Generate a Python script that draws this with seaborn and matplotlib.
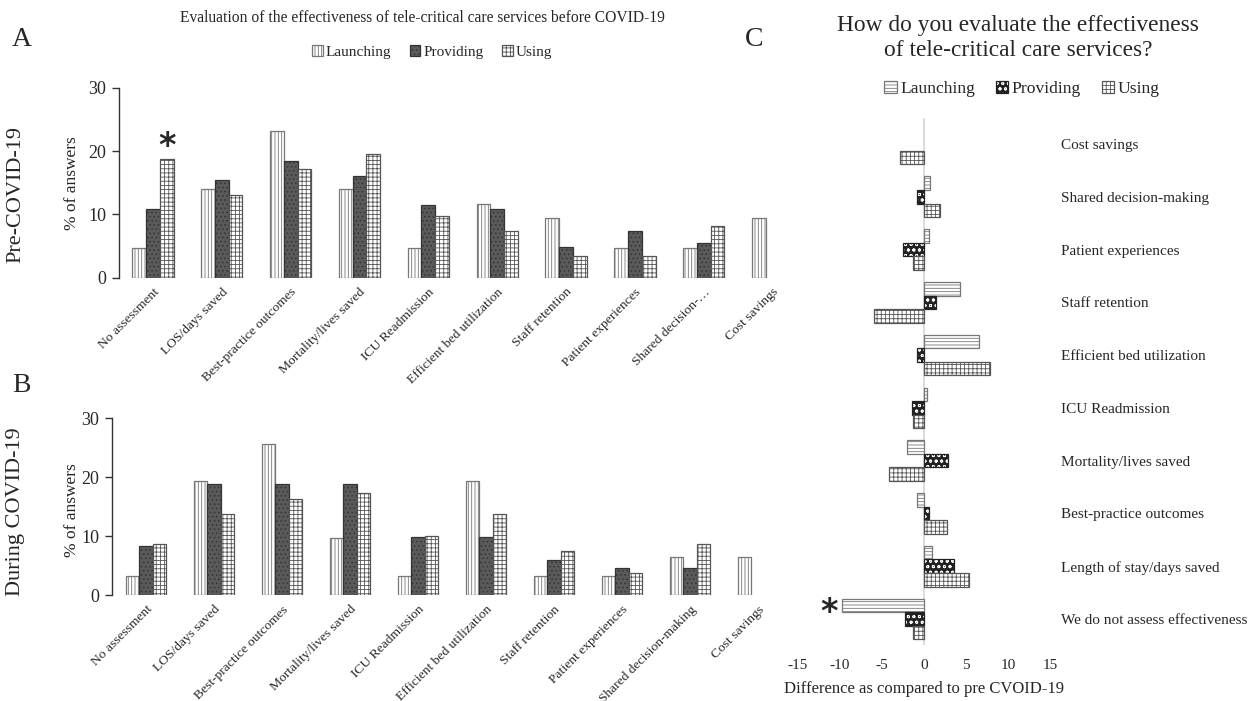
import numpy as np
import pandas as pd
import matplotlib
matplotlib.use("Agg")
import matplotlib.pyplot as plt
from matplotlib.patches import Patch
from matplotlib.colors import to_rgba
import seaborn as sns

# ---------------- data ----------------
series = ["Launching", "Providing", "Using"]

cats_A = ["No assessment", "LOS/days saved", "Best-practice outcomes", "Mortality/lives saved",
          "ICU Readmission", "Efficient bed utilization", "Staff retention",
          "Patient experiences", "Shared decision-\u2026", "Cost savings"]
cats_B = ["No assessment", "LOS/days saved", "Best-practice outcomes", "Mortality/lives saved",
          "ICU Readmission", "Efficient bed utilization", "Staff retention",
          "Patient experiences", "Shared decision-making", "Cost savings"]

pre_launching = [4.7, 14.0, 23.2, 14.0, 4.7, 11.7, 9.4, 4.7, 4.7, 9.4]
pre_providing = [10.8, 15.4, 18.4, 16.1, 11.4, 10.8, 4.8, 7.3, 5.4, 0]
pre_using = [18.7, 13.0, 17.1, 19.5, 9.8, 7.4, 3.4, 3.4, 8.2, 0]

during_launching = [3.3, 19.3, 25.7, 9.7, 3.3, 19.4, 3.3, 3.3, 6.4, 6.4]
during_providing = [8.3, 18.9, 18.9, 18.9, 9.9, 9.9, 6.0, 4.5, 4.6, 0]
during_using = [8.6, 13.7, 16.3, 17.4, 10.0, 13.7, 7.5, 3.8, 8.7, 0]

cats_C = ["Cost savings", "Shared decision-making", "Patient experiences", "Staff retention",
          "Efficient bed utilization", "ICU Readmission", "Mortality/lives saved",
          "Best-practice outcomes", "Length of stay/days saved", "We do not assess effectiveness"]
diff_launching = [0, 0.7, 0.6, 4.3, 6.5, 0.35, -2.0, -0.8, 0.9, -9.8]
diff_providing = [0, -0.8, -2.5, 1.4, -0.8, -1.4, 2.9, 0.6, 3.6, -2.3]
diff_using = [-2.8, 1.9, -1.35, -6.0, 7.8, -1.35, -4.2, 2.7, 5.4, -1.35]


def long_df(cats, a, b, c):
    rows = []
    for s, vals in zip(series, [a, b, c]):
        for k, v in zip(cats, vals):
            rows.append({"category": k, "series": s, "value": v})
    return pd.DataFrame(rows)


df_A = long_df(cats_A, pre_launching, pre_providing, pre_using)
df_B = long_df(cats_B, during_launching, during_providing, during_using)
df_C = long_df(cats_C, diff_launching, diff_providing, diff_using)

# ---------------- style ----------------
sns.set_style("white")
plt.rcParams["font.family"] = ["Liberation Serif", "DejaVu Serif"]
plt.rcParams["hatch.linewidth"] = 0.6

W, H = 1256, 701
fig = plt.figure(figsize=(W / 100, H / 100), dpi=100)


def box(l, r, t, b):
    return [l / W, 1 - b / H, (r - l) / W, (b - t) / H]


ax_A = fig.add_axes(box(118.5, 807, 87.7, 277.7))
ax_B = fig.add_axes(box(112, 792, 418.3, 595))
ax_C = fig.add_axes(box(798, 1050, 117.6, 645.4))

styles_AB = [
    dict(facecolor="white", hatch="|||||", edgecolor="#777777", hatchcolor="#777777"),
    dict(facecolor="#5a5a5a", hatch="....", edgecolor="#333333", hatchcolor="#333333"),
    dict(facecolor="white", hatch="++++", edgecolor="#555555", hatchcolor="#555555"),
]
styles_C = [
    dict(facecolor="white", hatch="-----", edgecolor="#777777", hatchcolor="#777777"),
    dict(facecolor="#222222", hatch="ooo", edgecolor="#222222", hatchcolor="#ffffff"),
    dict(facecolor="white", hatch="++++", edgecolor="#555555", hatchcolor="#555555"),
]


def apply_style(p, st):
    p.set_facecolor(st["facecolor"])
    p.set_hatch(st["hatch"])
    p.set_edgecolor(st["edgecolor"])
    p.set_linewidth(0.9)
    p._hatch_color = to_rgba(st["hatchcolor"])


def style_bars(ax, styles):
    for cont, st in zip(ax.containers, styles):
        for p in cont:
            apply_style(p, st)
            if p.get_width() == 0 or p.get_height() == 0:
                p.set_visible(False)


for ax, df, cats in [(ax_A, df_A, cats_A), (ax_B, df_B, cats_B)]:
    sns.barplot(data=df, x="category", y="value", hue="series", hue_order=series,
                order=cats, width=0.6, ax=ax, legend=False, saturation=1,
                palette=["white", "#5a5a5a", "white"], errorbar=None)
    style_bars(ax, styles_AB)
    ax.set_ylim(0, 30)
    ax.set_yticks([0, 10, 20, 30])
    ax.set_xlim(-0.5, 9.5)
    ax.set_xlabel("")
    ax.set_ylabel("")
    for s in ["top", "right", "bottom"]:
        ax.spines[s].set_visible(False)
    ax.spines["left"].set_color("#333333")
    ax.spines["left"].set_linewidth(1.0)
    ax.tick_params(axis="y", direction="out", length=5, width=1, color="#333333",
                   labelsize=13, pad=4, left=True)
    ax.tick_params(axis="x", length=0, pad=6)
    ax.set_xticks(range(len(cats)))
    ax.set_xticklabels(cats, rotation=45, ha="right", rotation_mode="anchor",
                       fontsize=9.7)

# asterisk over "No assessment" Using bar (panel A)
bar = ax_A.containers[2][0]
ax_A.annotate("*", xy=(bar.get_x() + bar.get_width() / 2, bar.get_height()),
              xytext=(0, -3), textcoords="offset points", ha="center", va="bottom",
              fontsize=24, fontweight="bold", family="DejaVu Sans")

# ---------------- panel C ----------------
sns.barplot(data=df_C, x="value", y="category", hue="series", hue_order=series,
            order=cats_C, width=0.77, ax=ax_C, legend=False, saturation=1,
            orient="h", palette=["white", "#333333", "white"], errorbar=None)
style_bars(ax_C, styles_C)
ax_C.axvline(0, color="#d4d4d4", lw=1.2, zorder=0)
ax_C.set_xlim(-15, 15)
ax_C.set_ylim(9.5, -0.5)
ax_C.set_xticks([-15, -10, -5, 0, 5, 10, 15])
ax_C.set_xticklabels(["-15", "-10", "-5", "0", "5", "10", "15"])
for s in ax_C.spines.values():
    s.set_visible(False)
ax_C.yaxis.tick_right()
ax_C.tick_params(axis="y", length=0, pad=8, labelsize=11)
ax_C.tick_params(axis="x", length=0, pad=10, labelsize=11)
for t in ax_C.get_yticklabels():
    t.set_ha("left")
ax_C.set_ylabel("")
ax_C.set_xlabel("Difference as compared to pre CVOID-19", fontsize=12, labelpad=6)

barC = ax_C.containers[0][9]
x_end = min(barC.get_x(), barC.get_x() + barC.get_width())
ax_C.annotate("*", xy=(x_end, barC.get_y() + barC.get_height() / 2),
              xytext=(-3, -5), textcoords="offset points", ha="right", va="center",
              fontsize=24, fontweight="bold", family="DejaVu Sans")

# ---------------- texts & legends ----------------
fig.text(422 / W, 1 - 18 / H,
         "Evaluation of the effectiveness of tele-critical care services before COVID-19",
         ha="center", va="center", fontsize=11.2)
fig.text(1018 / W, 1 - 38 / H,
         "How do you evaluate the effectiveness\nof tele-critical care services?",
         ha="center", va="center", fontsize=16.8, linespacing=1.2)

fig.text(12 / W, 1 - 40 / H, "A", ha="left", va="center", fontsize=20)
fig.text(12 / W, 1 - 385 / H, "B", ha="left", va="center", fontsize=20)
fig.text(745 / W, 1 - 40 / H, "C", ha="left", va="center", fontsize=20)

fig.text(16 / W, 1 - 195 / H, "Pre-COVID-19", rotation=90, ha="center", va="center",
         fontsize=16)
fig.text(16 / W, 1 - 512 / H, "During COVID-19", rotation=90, ha="center", va="center",
         fontsize=16)
fig.text(72 / W, 1 - 183 / H, "% of answers", rotation=90, ha="center", va="center",
         fontsize=12.5)
fig.text(72 / W, 1 - 510 / H, "% of answers", rotation=90, ha="center", va="center",
         fontsize=12.5)


def legend_handles(styles):
    hs = []
    for st, s in zip(styles, series):
        p = Patch(facecolor=st["facecolor"], hatch=st["hatch"], edgecolor=st["edgecolor"],
                  linewidth=0.9, label=s)
        hs.append(p)
    return hs


leg_A = fig.legend(handles=legend_handles(styles_AB), loc="center",
                   bbox_to_anchor=(432 / W, 1 - 52 / H), ncol=3, frameon=False,
                   fontsize=11, handlelength=0.7, handleheight=0.7,
                   handletextpad=0.2, columnspacing=1.2)
leg_C = fig.legend(handles=legend_handles(styles_C), loc="center",
                   bbox_to_anchor=(1022 / W, 1 - 89 / H), ncol=3, frameon=False,
                   fontsize=12.6, handlelength=0.7, handleheight=0.7,
                   handletextpad=0.2, columnspacing=1.2)
for leg, styles in [(leg_A, styles_AB), (leg_C, styles_C)]:
    for p, st in zip(leg.get_patches(), styles):
        p._hatch_color = to_rgba(st["hatchcolor"])

fig.savefig("out.png", dpi=100)
